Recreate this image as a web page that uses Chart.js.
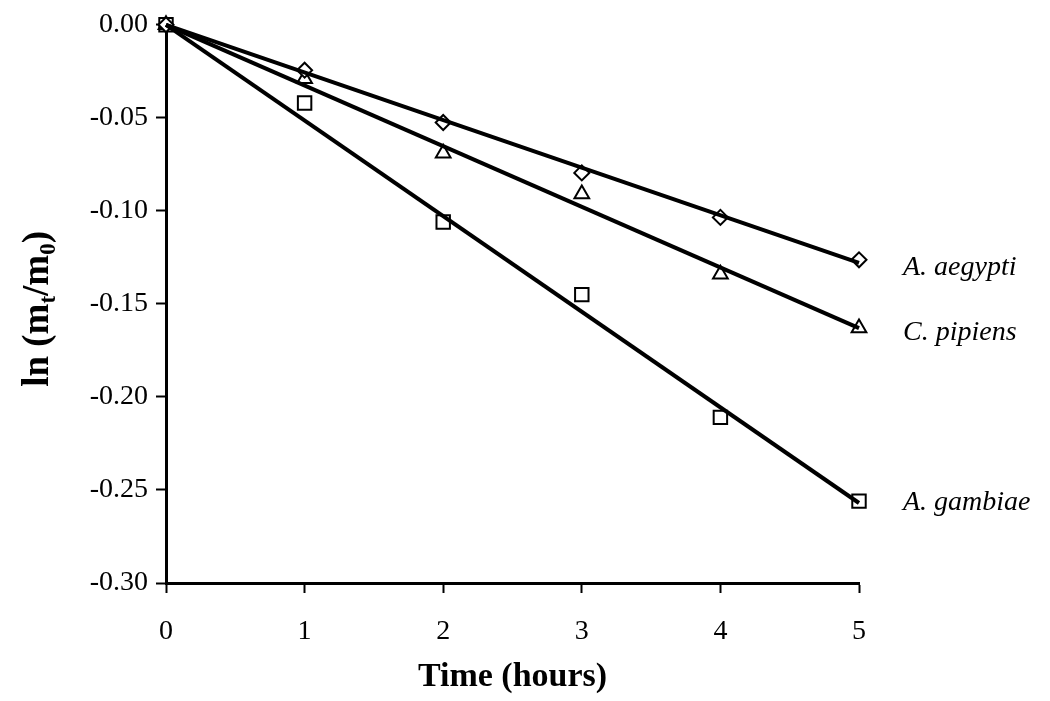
<!DOCTYPE html>
<html>
<head>
<meta charset="utf-8">
<script src="https://cdn.jsdelivr.net/npm/chart.js@4"></script>
<style>
    body { margin: 0; background: #fff; }
    #wrap { width: 1050px; height: 701px; position: relative; }
</style>
</head>
<body>
<div id="wrap"><canvas id="decayChart"></canvas></div>
<script>
// Data
const hours = [0, 1, 2, 3, 4, 5];
const aegyptiValues = [0, -0.0244, -0.0525, -0.0796, -0.1035, -0.1263];
const pipiensValues = [0, -0.029, -0.069, -0.091, -0.134, -0.163];
const gambiaeValues = [0, -0.042, -0.106, -0.145, -0.211, -0.256];

// Fitted lines: start and end values (at 0 h and 5 h)
const fitHours = [0, 5];
const aegyptiFit = [0, -0.128];
const pipiensFit = [0, -0.163];
const gambiaeFit = [0, -0.257];

const speciesNames = ['A. aegypti', 'C. pipiens', 'A. gambiae'];
const yTicks = [0, -0.05, -0.10, -0.15, -0.20, -0.25, -0.30];

const SERIF = '"Liberation Serif", "Times New Roman", serif';

function toPoints(xs, ys) {
    return xs.map((x, i) => ({ x: x, y: ys[i] }));
}

function markerSet(values, style, radius) {
    return {
        data: toPoints(hours, values),
        showLine: false,
        pointStyle: style,
        pointRadius: radius,
        pointHoverRadius: radius,
        pointBackgroundColor: '#ffffff',
        pointBorderColor: '#000000',
        pointBorderWidth: 2,
        clip: false,
        order: 1
    };
}

function fitSet(values) {
    return {
        data: toPoints(fitHours, values),
        showLine: true,
        borderColor: '#000000',
        borderWidth: 4,
        pointRadius: 0,
        fill: false,
        clip: false,
        order: 0
    };
}

// Species names next to the last marker of each series
const speciesLabels = {
    id: 'speciesLabels',
    afterDatasetsDraw(chart) {
        const { ctx, chartArea } = chart;
        const shifts = [8, 5, 2];
        ctx.save();
        ctx.font = 'italic 28px ' + SERIF;
        ctx.fillStyle = '#000';
        ctx.textBaseline = 'middle';
        ctx.textAlign = 'left';
        [0, 1, 2].forEach(i => {
            const meta = chart.getDatasetMeta(i);
            const last = meta.data[meta.data.length - 1];
            ctx.fillText(speciesNames[i], chartArea.right + 44, last.y + shifts[i]);
        });
        ctx.restore();
    }
};

// Y axis title with subscripts: ln (m_t/m_0)
const yTitle = {
    id: 'yTitle',
    afterDraw(chart) {
        const { ctx, chartArea } = chart;
        const big = 'bold 37px ' + SERIF;
        const small = 'bold 23px ' + SERIF;
        const parts = [
            { t: 'ln (m', f: big, dy: 0 },
            { t: 't', f: small, dy: 7 },
            { t: '/m', f: big, dy: 0 },
            { t: '0', f: small, dy: 7 },
            { t: ')', f: big, dy: 0 }
        ];
        ctx.save();
        let total = 0;
        parts.forEach(p => { ctx.font = p.f; p.w = ctx.measureText(p.t).width; total += p.w; });
        ctx.translate(36, (chartArea.top + chartArea.bottom) / 2 + 5);
        ctx.rotate(-Math.PI / 2);
        ctx.fillStyle = '#000';
        ctx.textBaseline = 'alphabetic';
        let x = -total / 2;
        parts.forEach(p => {
            ctx.font = p.f;
            ctx.fillText(p.t, x, 12 + p.dy);
            x += p.w;
        });
        ctx.restore();
    }
};

const ctx = document.getElementById('decayChart');

new Chart(ctx, {
    type: 'scatter',
    data: {
        datasets: [
            markerSet(aegyptiValues, 'rectRot', 7.5),
            markerSet(pipiensValues, 'triangle', 8.5),
            markerSet(gambiaeValues, 'rect', 9.5),
            fitSet(aegyptiFit),
            fitSet(pipiensFit),
            fitSet(gambiaeFit)
        ]
    },
    options: {
        responsive: true,
        maintainAspectRatio: false,
        animation: false,
        layout: {
            padding: { top: 18, right: 191, left: 0, bottom: 0 }
        },
        plugins: {
            legend: { display: false },
            tooltip: { enabled: false }
        },
        scales: {
            x: {
                type: 'linear',
                min: 0,
                max: 5,
                afterFit: function (scale) { scale.height = 118; },
                ticks: {
                    stepSize: 1,
                    color: '#000',
                    padding: 22,
                    font: { family: SERIF, size: 28 }
                },
                grid: {
                    drawOnChartArea: false,
                    drawTicks: true,
                    tickLength: 10,
                    tickWidth: 2,
                    tickColor: '#000'
                },
                border: { display: true, color: '#000', width: 3 },
                title: {
                    display: true,
                    text: 'Time (hours)',
                    color: '#000',
                    font: { family: SERIF, size: 34, weight: 'bold' },
                    padding: { top: 0, bottom: 3 }
                }
            },
            y: {
                type: 'linear',
                min: -0.3,
                max: 0,
                afterFit: function (scale) { scale.width = 166; },
                afterBuildTicks: function (scale) {
                    scale.ticks = yTicks.map(v => ({ value: v }));
                },
                ticks: {
                    color: '#000',
                    padding: 8,
                    font: { family: SERIF, size: 28 },
                    callback: function (value) { return Number(value).toFixed(2); }
                },
                grid: {
                    drawOnChartArea: false,
                    drawTicks: true,
                    tickLength: 10,
                    tickWidth: 2,
                    tickColor: '#000'
                },
                border: { display: true, color: '#000', width: 3 }
            }
        }
    },
    plugins: [speciesLabels, yTitle]
});
</script>
</body>
</html>
